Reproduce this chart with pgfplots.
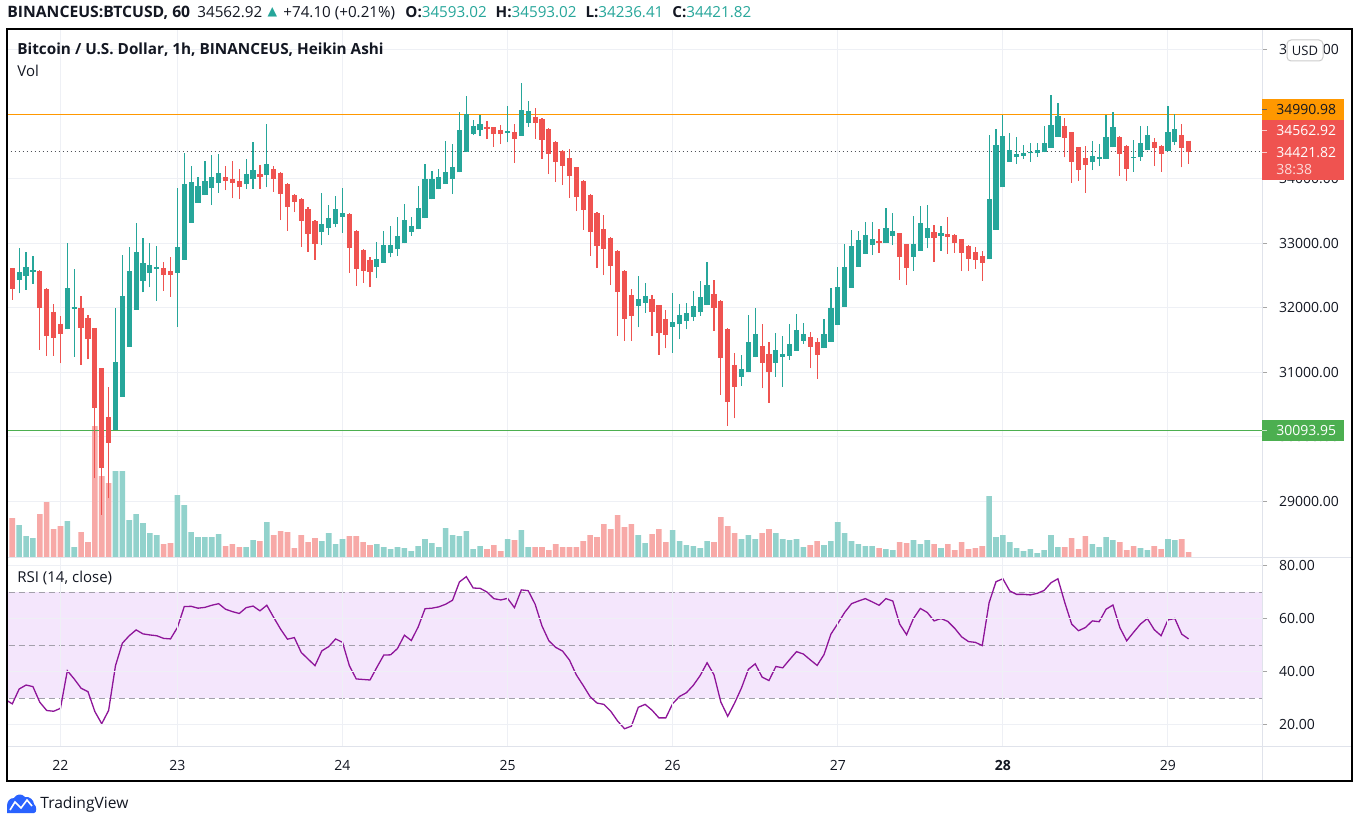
\documentclass[border=0pt]{standalone}
\usepackage{pgfplots}
\pgfplotsset{compat=1.18}
\usepackage{pgfplotstable}
\usepackage{fontspec}
\setmainfont{Open Sans}
\newfontfamily\dejavu{DejaVu Sans}
\definecolor{tvgreen}{HTML}{26A69A}
\definecolor{tvred}{HTML}{EF5350}
\definecolor{volgreen}{HTML}{92D2CC}
\definecolor{volred}{HTML}{F7A9A7}
\definecolor{gridc}{HTML}{EEF0F5}
\definecolor{sepc}{HTML}{E0E3EB}
\definecolor{tvtext}{HTML}{131722}
\definecolor{lvorange}{HTML}{FF9800}
\definecolor{lvgreen}{HTML}{4CAF50}
\definecolor{rsiline}{HTML}{8E1599}
\definecolor{rsiband}{RGB}{244,230,252}
\definecolor{rsidash}{HTML}{A3A0AB}
\definecolor{tvblue}{HTML}{2962FF}

% Heikin Ashi candles, rising (i = hour index)
\pgfplotstableread{
i o h l c
1 32431 32922 32224 32550
2 32498 32870 32276 32627
3 32560 32803 32369 32586
8 31666 33010 31666 32302
9 31986 32601 31242 32007
15 30106 32002 30106 31155
16 30622 32818 30622 32183
17 31397 32947 31397 32575
18 31966 33309 31966 32860
19 32415 33077 32240 32699
20 32544 32999 32317 32663
21 32607 32963 32110 32627
24 32544 33852 31707 32947
25 32741 34394 32741 33914
26 33320 34198 33320 33950
27 33630 34033 33630 33888
28 33748 34281 33748 33965
29 33852 34368 33593 34033
30 33940 34384 33785 34084
34 33914 34306 33841 34069
35 33991 34575 33841 34136
37 34053 34844 33867 34229
45 33170 33774 32973 33299
46 33232 33599 33128 33392
47 33299 33738 33247 33531
48 33413 33862 33165 33475
53 32637 33025 32457 32756
54 32699 33196 32699 32973
55 32844 33273 32782 32979
56 32906 33402 32808 33118
57 32999 33604 32999 33361
58 33180 33402 33118 33268
59 33216 33888 33216 33552
60 33387 34229 33387 33996
61 33681 34126 33681 33996
62 33836 34146 33836 34022
63 33924 34585 33924 34100
64 34002 34539 33764 34177
65 34100 35030 34100 34756
66 34420 35283 34420 35004
67 34694 34911 34678 34823
68 34756 34988 34663 34849
72 34715 35128 34565 34740
74 34668 35490 34668 35066
75 34870 35211 34808 35050
91 32033 32493 31697 32136
92 32079 32379 31924 32183
96 31707 32224 31304 31775
97 31744 32059 31511 31888
98 31800 32079 31666 31914
99 31862 32265 31800 32028
100 31940 32420 31873 32162
101 32043 32715 32043 32353
106 30932 31268 30788 31046
107 31000 31888 31000 31465
108 31232 32002 31232 31589
111 31149 31614 30932 31346
112 31242 31563 30777 31284
113 31258 31744 31191 31434
114 31335 31904 31335 31656
115 31490 31769 31439 31594
118 31372 31821 31372 31594
119 31475 32302 31475 31992
120 31733 32627 31733 32317
121 32017 32984 32017 32627
122 32312 33206 32312 32958
123 32637 33190 32637 33051
124 32834 33335 32834 33128
125 32979 33325 32818 33066
127 33004 33542 33004 33232
128 33118 33464 32973 33190
131 32792 33423 32575 32989
132 32885 33583 32885 33309
133 33087 33599 32922 33232
135 33118 33273 32885 33154
142 32751 34678 32751 33686
143 33206 34766 33206 34523
144 33867 34988 33867 34663
145 34265 34715 34265 34446
146 34343 34642 34229 34384
147 34358 34523 34306 34405
148 34394 34560 34265 34410
149 34394 34560 34343 34446
150 34410 34823 34410 34549
151 34482 35298 34482 34833
152 34653 35180 34653 34973
157 34255 34585 34136 34358
158 34301 34539 34198 34343
159 34306 34988 34306 34642
160 34487 35030 34487 34797
163 34327 34601 34110 34343
164 34332 34823 34281 34560
165 34446 34823 34446 34678
168 34436 35133 34436 34720
169 34575 35004 34523 34766
}\upT

% Heikin Ashi candles, falling
\pgfplotstableread{
i o h l c
-1 32741 32767 32457 32482
0 32612 32620 32121 32286
4 32570 32586 31346 32002
5 32291 32302 31253 31563
6 31935 32059 31253 31537
7 31754 31873 31139 31599
10 31997 32183 31113 31682
11 31842 31888 31201 31521
12 31687 31687 29356 30452
13 31062 31062 28788 29522
14 30302 30777 29046 29899
22 32612 32715 32265 32513
23 32570 32792 32172 32513
31 34027 34198 33826 33971
32 33991 34281 33697 33929
33 33965 34146 33681 33867
36 34074 34213 33841 34033
38 34151 34198 33800 34002
39 34095 34110 33361 33759
40 33919 33929 33196 33568
41 33748 33759 33485 33635
42 33686 33697 32947 33351
43 33531 33568 32870 33149
44 33345 33361 32741 32994
49 33454 33464 32544 32932
50 33190 33201 32338 32596
51 32896 32906 32389 32570
52 32741 32792 32317 32560
69 34808 34895 34616 34777
70 34797 34808 34498 34699
71 34756 34833 34539 34689
73 34725 34844 34250 34616
76 34963 35092 34616 34870
77 34926 34937 34312 34601
78 34771 34782 34074 34379
79 34570 34580 33955 34265
80 34430 34446 33903 34203
81 34317 34461 33707 34043
82 34177 34188 33500 33723
83 33965 33981 33206 33516
84 33748 33759 32808 33175
85 33469 33480 32622 32963
86 33221 33444 32508 32911
87 33082 33092 32353 32648
88 32885 32896 31563 32250
89 32570 32586 31485 31826
90 32198 32286 31485 31878
93 32136 32198 31563 31940
94 32038 32048 31268 31614
95 31826 31966 31372 31578
102 32214 32431 31640 32002
103 32105 32121 30648 31227
104 31671 31682 30168 30545
105 31113 31304 30286 30767
109 31408 31744 30752 31149
110 31279 31475 30529 31010
116 31547 31620 31062 31397
117 31470 31527 30896 31268
126 33035 33221 32854 33004
129 33154 33165 32431 32792
130 32984 32994 32353 32612
134 33170 33283 32715 33087
136 33144 33413 32834 33103
137 33128 33144 32854 32999
138 33061 33071 32570 32844
139 32958 32968 32570 32756
140 32860 32937 32606 32741
141 32803 32885 32420 32689
153 34818 34937 34332 34637
154 34720 34730 33940 34255
155 34487 34498 33971 34136
156 34317 34513 33785 34213
161 34642 34663 34048 34384
162 34508 34518 33971 34157
166 34575 34637 34198 34472
167 34513 34523 34110 34384
170 34678 34844 34177 34482
171 34593.02 34593.02 34236.41 34421.82
}\dnT

% volume (relative units), rising and falling hours
\pgfplotstableread{
i v
1 32
2 21
3 19
8 36
9 10
15 86
16 86
17 37
18 43
19 34
20 24
21 22
24 62
25 52
26 25
27 20
28 20
29 20
30 23
34 10
35 17
37 35
45 16
46 24
47 13
48 18
53 13
54 10
55 8
56 10
57 9
58 6
59 11
60 18
61 14
62 10
63 29
64 22
65 21
66 26
67 8
68 11
72 18
74 27
75 10
91 22
92 14
96 27
97 16
98 12
99 11
100 9
101 16
106 18
107 22
108 18
111 24
112 18
113 17
114 18
115 10
118 12
119 16
120 35
121 24
122 16
123 13
124 11
125 11
127 8
128 7
131 17
132 13
133 17
135 9
142 61
143 20
144 22
145 15
146 9
147 6
148 8
149 4
150 7
151 22
152 10
157 13
158 10
159 20
160 17
164 9
165 7
168 18
169 17
}\volG

\pgfplotstableread{
i v
0 39
4 43
5 55
6 28
7 31
10 25
11 15
12 131
13 81
14 74
22 13
23 14
31 11
32 13
33 10
36 16
38 22
39 26
40 25
41 9
42 22
43 15
44 19
49 21
50 21
51 15
52 12
69 8
70 12
71 6
73 17
76 10
77 10
78 7
79 13
80 10
81 10
82 10
83 16
84 22
85 20
86 33
87 28
88 42
89 30
90 33
93 23
94 28
95 15
102 15
103 40
104 31
105 24
109 24
110 28
116 12
117 16
126 9
129 15
130 14
134 13
136 13
137 7
138 15
139 8
140 9
141 11
153 10
154 19
155 8
156 21
161 15
162 7
163 11
166 11
167 8
170 18
171 5
}\volR

% RSI(14)
\pgfplotstableread{
i r
-1 29.4
0 27.8
1 33.4
2 34.9
3 34.3
4 28.4
5 25.3
6 25.0
7 26.1
8 40.3
9 37.2
10 33.7
11 32.4
12 24.9
13 20.3
14 25.3
15 42.2
16 50.7
17 53.5
18 55.7
19 54.2
20 53.8
21 53.5
22 52.5
23 52.3
24 56.6
25 64.5
26 64.6
27 63.9
28 64.2
29 65.0
30 65.6
31 63.5
32 62.6
33 61.9
34 64.1
35 64.7
36 62.9
37 65.0
38 60.4
39 56.0
40 52.2
41 52.8
42 47.2
43 44.7
44 42.2
45 47.8
46 49.4
47 52.3
48 51.0
49 42.2
50 37.2
51 37.0
52 36.8
53 41.6
54 46.2
55 46.3
56 48.7
57 53.7
58 51.7
59 56.8
60 63.7
61 63.9
62 64.4
63 65.4
64 66.9
65 73.8
66 75.8
67 71.5
68 71.4
69 70.0
70 67.5
71 67.0
72 67.6
73 64.1
74 70.8
75 70.5
76 65.4
77 57.2
78 51.6
79 49.1
80 47.7
81 44.3
82 38.7
83 34.7
84 30.5
85 28.1
86 27.6
87 25.0
88 21.3
89 18.4
90 19.4
91 26.5
92 27.6
93 25.4
94 22.5
95 22.5
96 27.9
97 30.6
98 32.0
99 34.8
100 38.5
101 43.3
102 38.8
103 28.5
104 23.1
105 28.1
106 33.8
107 40.8
108 42.9
109 37.9
110 36.6
111 41.9
112 41.4
113 44.5
114 47.5
115 46.6
116 44.4
117 42.3
118 46.4
119 54.1
120 58.1
121 62.3
122 65.6
123 66.6
124 67.5
125 66.3
126 65.0
127 67.5
128 66.6
129 57.9
130 53.9
131 60.0
132 63.8
133 62.3
134 59.1
135 60.0
136 58.9
137 56.3
138 53.1
139 51.3
140 51.0
141 49.8
142 66.0
143 73.9
144 75.0
145 70.4
146 69.1
147 69.1
148 68.9
149 69.5
150 70.6
151 73.5
152 75.0
153 66.0
154 57.9
155 55.4
156 56.6
157 59.1
158 58.8
159 63.5
160 65.1
161 56.6
162 51.6
163 54.8
164 57.9
165 60.0
166 55.8
167 53.5
168 59.5
169 60.0
170 54.1
171 52.3
}\rsiT

\pgfplotsset{
  tvpane/.style={at={(4pt,-15pt)}, anchor=north west, scale only axis,
    width=627pt, height=263.5pt, xmin=-0.625, xmax=181.67},
  tvlab/.style={font=\fontsize{7}{8}\selectfont, text=tvtext,
    /pgf/number format/fixed, /pgf/number format/fixed zerofill,
    /pgf/number format/precision=2, /pgf/number format/1000 sep={},
    /pgf/number format/assume math mode=true},
}

\begin{document}
\begin{tikzpicture}
\fill[white] (0,0) rectangle (679pt,-414pt);
\path[use as bounding box] (0,0) rectangle (679pt,-414pt);

% price grid and scale
\begin{axis}[tvpane, ymin=28136, ymax=36307,
  axis line style={draw=none},
  xtick={7,24,48,72,96,120,144,168}, xticklabels={},
  ytick={29000,30000,...,36000},
  yticklabels={29000.00,30000.00,31000.00,32000.00,33000.00,34000.00,,36000.00},
  scaled y ticks=false,
  ytick pos=right, yticklabel pos=right,
  grid=major, major grid style={gridc, line width=0.5pt},
  xtick style={draw=none}, ytick style={draw=black!35, line width=0.5pt},
  tick align=outside, major tick length=2.5pt,
  yticklabel style={tvlab, anchor=west, xshift=2.5pt}]
\addplot[draw=none] coordinates {(0,30000)};
\end{axis}

% volume
\begin{axis}[tvpane, ymin=0, ymax=527, hide axis]
\addplot[ybar, bar width=2.8pt, bar shift=0pt, fill=volgreen, draw=none] table[x=i,y=v]{\volG};
\addplot[ybar, bar width=2.8pt, bar shift=0pt, fill=volred, draw=none] table[x=i,y=v]{\volR};
\end{axis}

% candles
\begin{axis}[tvpane, ymin=28136, ymax=36307, hide axis]
\addplot[lvorange, line width=0.55pt] coordinates {(-2,34990.98) (183,34990.98)};
\addplot[lvgreen, line width=0.55pt] coordinates {(-2,30093.95) (183,30093.95)};
\addplot[tvtext!75, line width=0.5pt, dash pattern=on 0.5pt off 1.5pt] coordinates {(-2,34421.82) (183,34421.82)};
\addplot[tvgreen, line width=0.6pt, quiver={u=0, v=\thisrow{h}-\thisrow{l}}] table[x=i,y=l]{\upT};
\addplot[tvgreen, line width=2.6pt, quiver={u=0, v=\thisrow{c}-\thisrow{o}}] table[x=i,y=o]{\upT};
\addplot[tvred, line width=0.6pt, quiver={u=0, v=\thisrow{h}-\thisrow{l}}] table[x=i,y=l]{\dnT};
\addplot[tvred, line width=2.6pt, quiver={u=0, v=\thisrow{c}-\thisrow{o}}] table[x=i,y=o]{\dnT};
\end{axis}

% RSI pane
\begin{axis}[at={(4pt,-278.5pt)}, anchor=north west, scale only axis,
  width=627pt, height=94.5pt, xmin=-0.625, xmax=181.67, ymin=11.89, ymax=83.21,
  axis line style={draw=none}, axis on top,
  xtick={7,24,48,72,96,120,144,168},
  xticklabels={22,23,24,25,26,27,\textbf{28},29},
  ytick={20,40,60,80}, ytick pos=right, yticklabel pos=right,
  grid=major, major grid style={gridc, line width=0.5pt},
  xtick style={draw=none}, ytick style={draw=black!35, line width=0.5pt},
  tick align=outside, major tick length=2.5pt,
  yticklabel style={tvlab, anchor=west, xshift=2.5pt},
  xticklabel style={font=\fontsize{7}{8}\selectfont, text=tvtext, yshift=-1pt}]
\addplot[draw=none, fill=rsiband] coordinates {(-2,30) (183,30) (183,70) (-2,70)} -- cycle;
\addplot[rsidash, line width=0.5pt, dash pattern=on 3pt off 2pt] coordinates {(-2,70) (183,70)};
\addplot[rsidash, line width=0.5pt, dash pattern=on 3pt off 2pt] coordinates {(-2,50) (183,50)};
\addplot[rsidash, line width=0.5pt, dash pattern=on 3pt off 2pt] coordinates {(-2,30) (183,30)};
\addplot[rsiline, line width=0.65pt] table[x=i,y=r]{\rsiT};
\end{axis}

\begin{scope}[x=0.5pt, y=-0.5pt]
% separators and frame
\draw[sepc, line width=0.5pt] (1262,29) -- (1262,781);
\draw[sepc, line width=0.5pt] (7,557) -- (1352,557);
\draw[sepc, line width=0.5pt] (7,746) -- (1352,746);
\draw[black, line width=1pt] (7,29) rectangle (1352,781);

% header
\begin{scope}[every node/.style={anchor=base west, inner sep=0, text=tvtext, font=\fontsize{7.6}{9}\selectfont}]
\node[font=\fontsize{7.85}{9}\selectfont\bfseries] at (7,17.5) {BINANCEUS:BTCUSD, 60};
\node at (197,17.5) {34562.92};
\node[anchor=center, text=tvgreen, font=\dejavu\fontsize{6.2}{7}\selectfont] at (272.5,12.5) {▲};
\node at (283,17.5) {+74.10 (+0.21\%)};
\node at (405,17.5) {\textbf{O:}\textcolor{tvgreen}{34593.02}\hspace{4.5pt}\textbf{H:}\textcolor{tvgreen}{34593.02}\hspace{4.5pt}\textbf{L:}\textcolor{tvgreen}{34236.41}\hspace{4.5pt}\textbf{C:}\textcolor{tvgreen}{34421.82}};
\end{scope}

\node[anchor=west, inner sep=0, font=\fontsize{7.65}{9}\selectfont\bfseries, text=tvtext] at (17,50) {Bitcoin / U.S. Dollar, 1h, BINANCEUS, Heikin Ashi};
\node[anchor=west, inner sep=0, font=\fontsize{7.5}{9}\selectfont, text=tvtext] at (17,71) {Vol};
\node[anchor=west, inner sep=0, font=\fontsize{7.5}{9}\selectfont, text=tvtext] at (17,578) {RSI (14, close)};

% price labels on the scale
\fill[lvorange] (1262,99) rectangle (1344,120);
\draw[tvtext!70, line width=0.5pt] (1262,109.5) -- (1267,109.5);
\node[anchor=west, inner sep=0, font=\fontsize{7}{8}\selectfont, text=tvtext] at (1276,109.5) {34990.98};
\fill[tvred] (1262,120.5) rectangle (1344,180);
\draw[white!70!tvred, line width=0.5pt] (1262,131) -- (1267,131);
\draw[white!70!tvred, line width=0.5pt] (1262,152.5) -- (1267,152.5);
\node[anchor=west, inner sep=0, font=\fontsize{7}{8}\selectfont, text=white] at (1276,131) {34562.92};
\node[anchor=west, inner sep=0, font=\fontsize{7}{8}\selectfont, text=white] at (1276,152.5) {34421.82};
\node[anchor=west, inner sep=0, font=\fontsize{7}{8}\selectfont, text=white!80!tvred] at (1276,170) {38:38};
\fill[lvgreen] (1262,420) rectangle (1344,441);
\draw[white!70!lvgreen, line width=0.5pt] (1262,430.5) -- (1267,430.5);
\node[anchor=west, inner sep=0, font=\fontsize{7}{8}\selectfont, text=white] at (1276,430.5) {30093.95};
\draw[fill=white, draw=black!20, line width=0.5pt, rounded corners=2pt] (1287,40) rectangle (1323,61);
\node[inner sep=0, font=\fontsize{6.5}{8}\selectfont, text=tvtext] at (1305,50.5) {USD};

% TradingView logo
\fill[tvblue] (7,813) -- (7,806) .. controls (7,801) and (10,798) .. (14,798)
  .. controls (16,794) and (22,793) .. (25,797) .. controls (29,796) and (34,800) .. (34,804)
  .. controls (37,806) and (37,813) .. (34,813) -- cycle;
\draw[white, line width=0.8pt] (10,810) -- (15,802) -- (21,808) -- (27,800) -- (32,806);
\node[anchor=west, inner sep=0, font=\fontsize{7.8}{9}\selectfont, text=tvtext] at (40,804) {TradingView};
\end{scope}
\end{tikzpicture}
\end{document}
